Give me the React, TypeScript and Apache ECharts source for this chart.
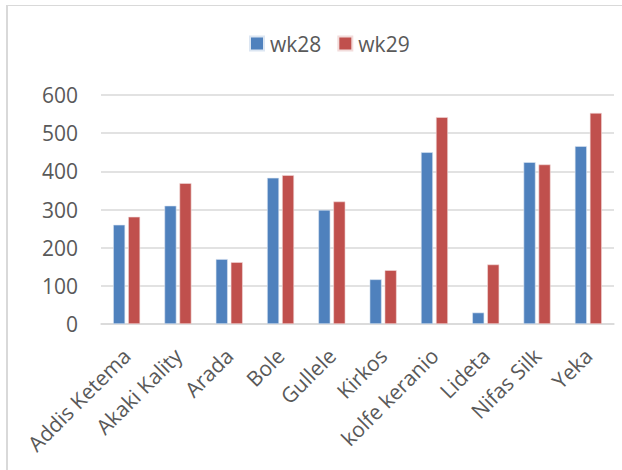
import React, { useEffect, useRef } from "react";
import * as echarts from "echarts";

const categories = [
  "Addis Ketema",
  "Akaki Kality",
  "Arada",
  "Bole",
  "Gullele",
  "Kirkos",
  "kolfe keranio",
  "Lideta",
  "Nifas Silk",
  "Yeka",
];
const wk28 = [260, 310, 170, 383, 299, 117, 450, 30, 424, 466];
const wk29 = [281, 369, 162, 390, 321, 141, 542, 156, 418, 553];
const seriesNames = ["wk28", "wk29"];
const colors = ["#4F81BD", "#C0504D"];

const FONT = "'Open Sans', sans-serif";
const TXT = "#595959";

export default function App() {
  const ref = useRef<HTMLDivElement>(null);
  useEffect(() => {
    if (!ref.current) return;
    const chart = echarts.init(ref.current, null, { renderer: "svg" });
    chart.setOption({
      animation: false,
      backgroundColor: "#ffffff",
      graphic: [
        { type: "line", shape: { x1: 7, y1: 5.5, x2: 622, y2: 5.5 }, style: { stroke: "#D9D9D9", lineWidth: 1 } },
        { type: "line", shape: { x1: 7, y1: 5, x2: 7, y2: 470 }, style: { stroke: "#D9D9D9", lineWidth: 2 } },
      ],
      legend: {
        data: seriesNames,
        top: 33,
        left: 249,
        padding: 0,
        itemWidth: 14,
        itemHeight: 14,
        itemGap: 16,
        icon: "rect",
        textStyle: { color: TXT, fontSize: 21, fontFamily: FONT, padding: [0, 0, 0, 1] },
      },
      grid: { left: 101, right: 8, top: 95, bottom: 146, containLabel: false },
      xAxis: {
        type: "category",
        data: categories,
        axisLine: { show: true, lineStyle: { color: "#D9D9D9", width: 1.5 } },
        axisTick: { show: false },
        axisLabel: {
          rotate: 45,
          interval: 0,
          color: TXT,
          fontSize: 21,
          fontFamily: FONT,
          margin: 28,
        },
      },
      yAxis: {
        type: "value",
        min: 0,
        max: 600,
        interval: 100,
        axisLine: { show: false },
        axisTick: { show: false },
        splitLine: { lineStyle: { color: "#D9D9D9", width: 1.5 } },
        axisLabel: { color: TXT, fontSize: 21, fontFamily: FONT, margin: 23 },
      },
      series: [
        {
          name: seriesNames[0],
          type: "bar",
          data: wk28,
          barWidth: 12,
          barGap: "25%",
          itemStyle: { color: colors[0], borderColor: "#DCE6F2", borderWidth: 0.6 },
        },
        {
          name: seriesNames[1],
          type: "bar",
          data: wk29,
          barWidth: 12,
          barGap: "25%",
          itemStyle: { color: colors[1], borderColor: "#F2DCDB", borderWidth: 0.6 },
        },
      ],
    });
    return () => chart.dispose();
  }, []);
  return <div ref={ref} style={{ width: 622, height: 470, position: "absolute", left: 0, top: 0 }} />;
}
